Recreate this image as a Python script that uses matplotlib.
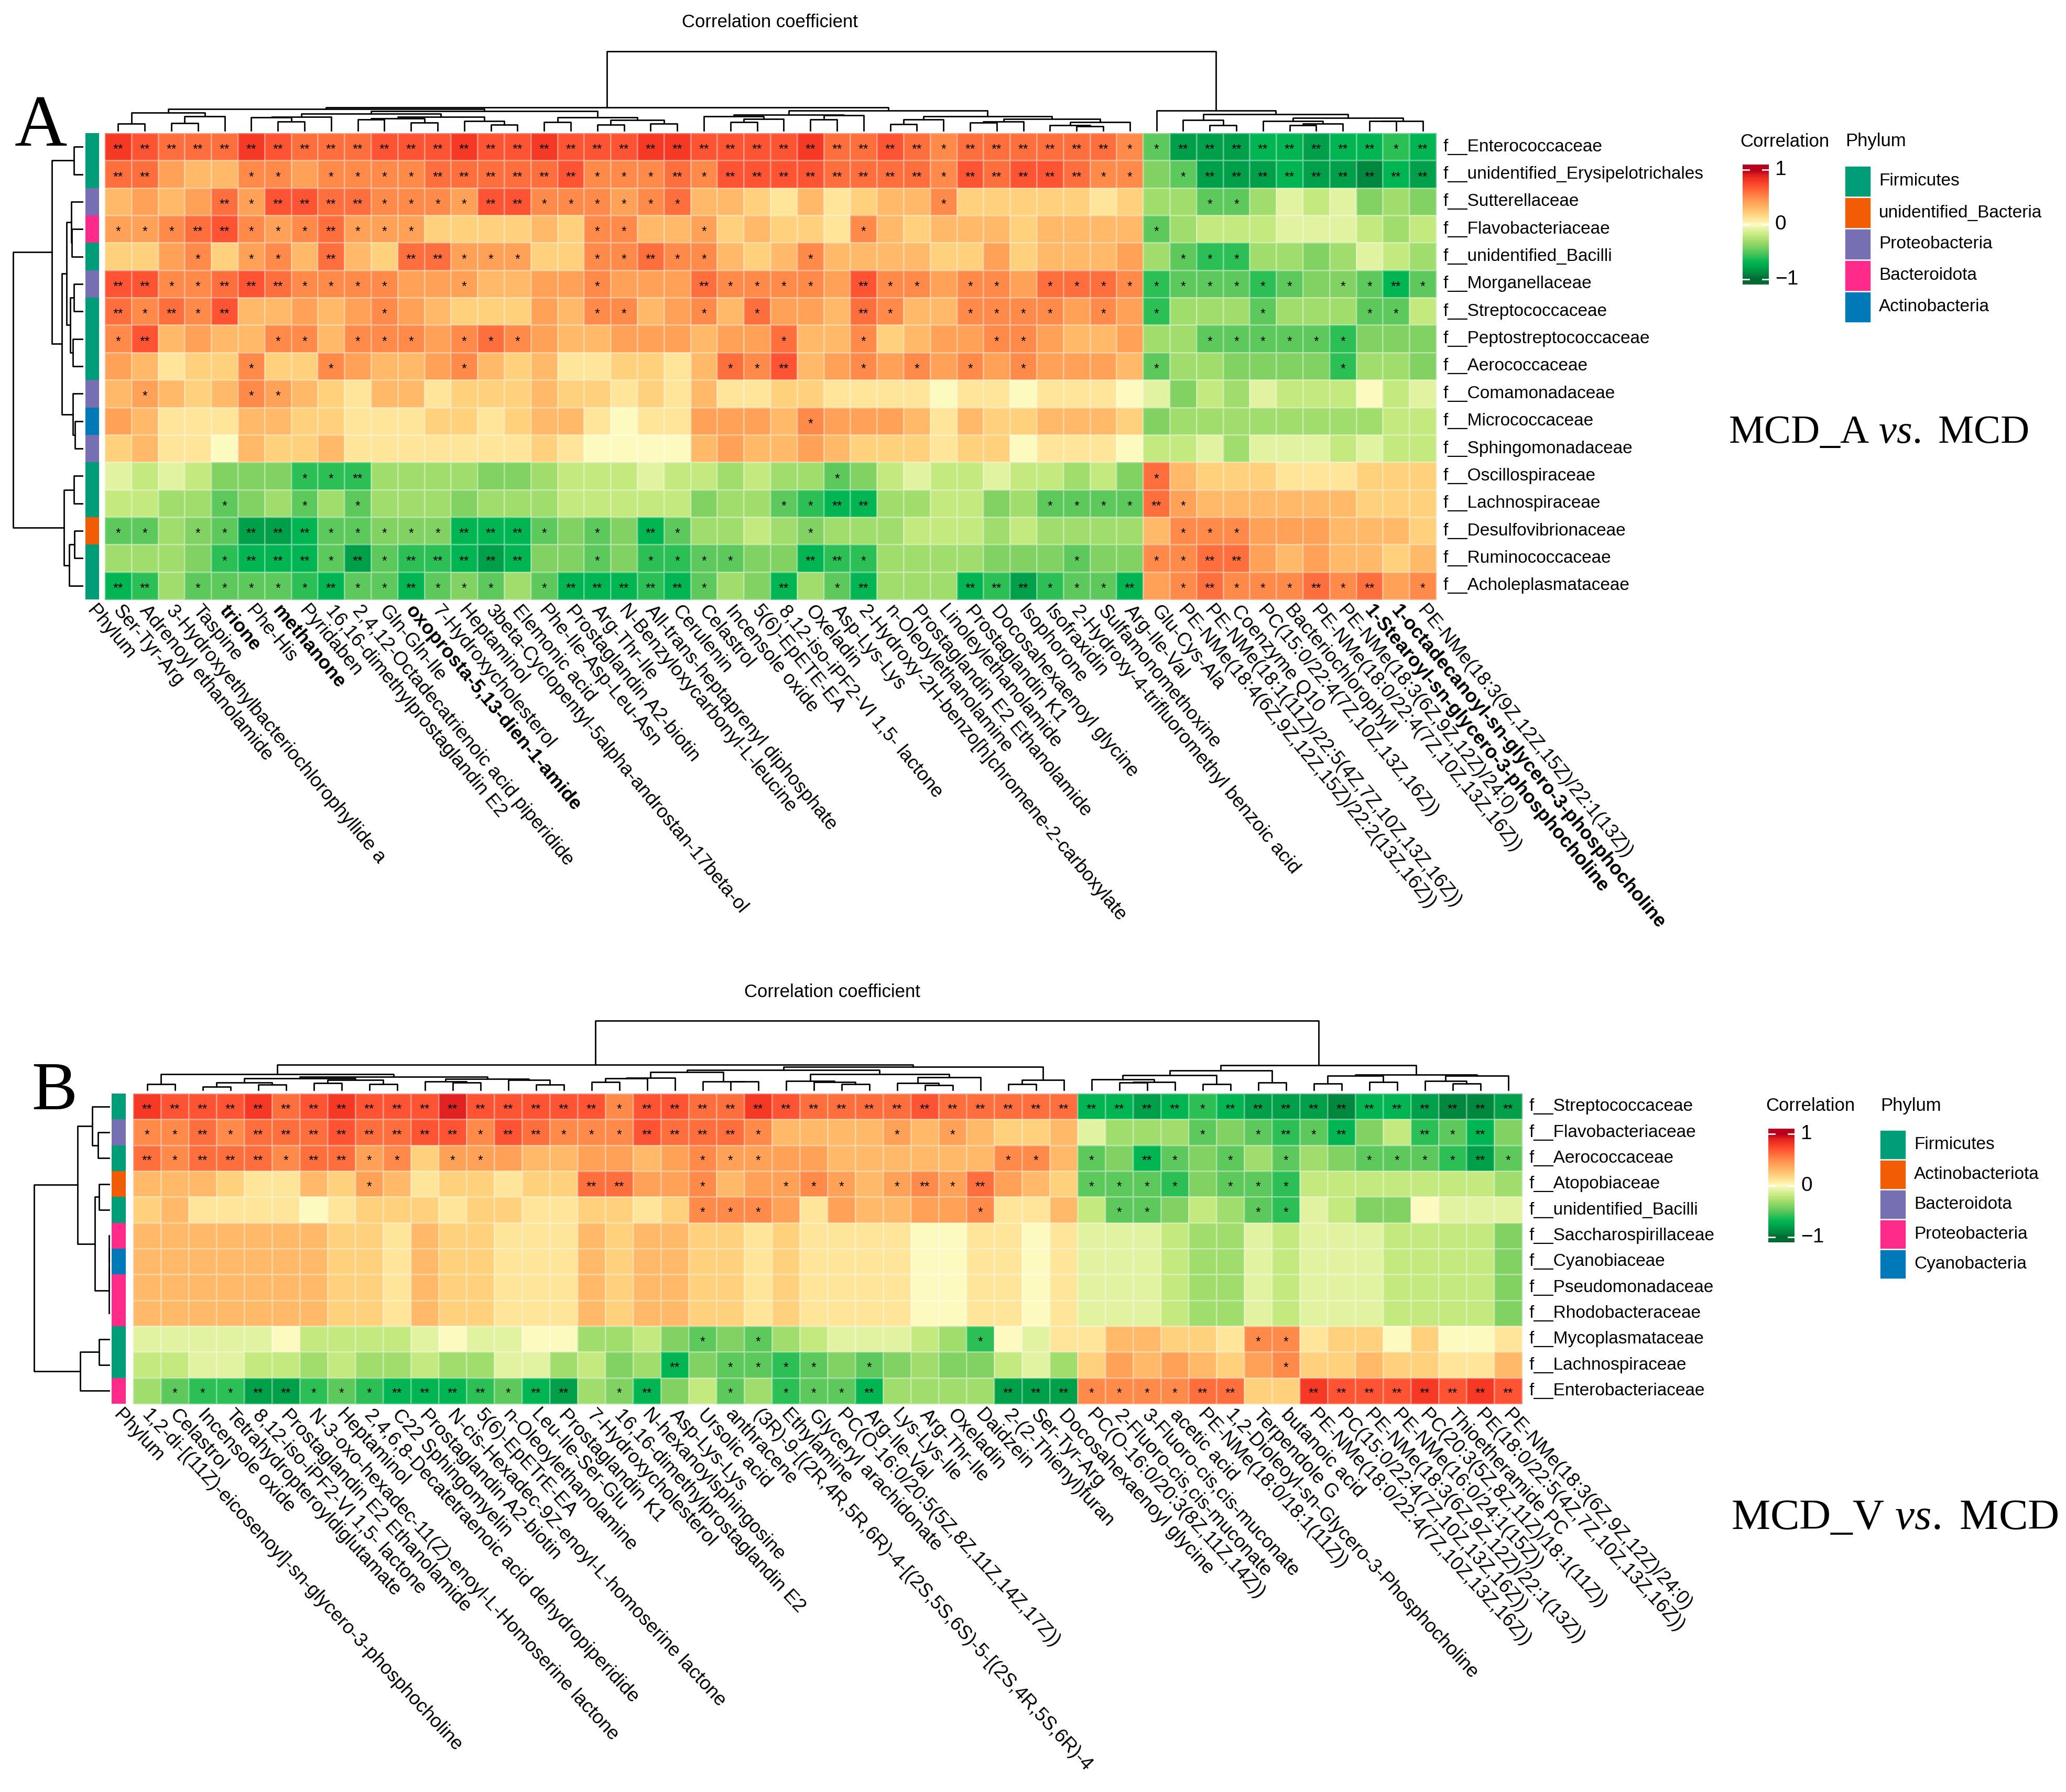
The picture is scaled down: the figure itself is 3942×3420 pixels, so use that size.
import numpy as np
import matplotlib
matplotlib.use("Agg")
import matplotlib.pyplot as plt
from matplotlib.colors import LinearSegmentedColormap, ListedColormap
from matplotlib.patches import Rectangle

W, H = 3942, 3420

# ---------------------------------------------------------------------------
# Panel A data (correlation x 10, significance: 0 / 1 = "*" / 2 = "**")
# ---------------------------------------------------------------------------
A_ROWS = ["f__Enterococcaceae", "f__unidentified_Erysipelotrichales", "f__Sutterellaceae",
          "f__Flavobacteriaceae", "f__unidentified_Bacilli", "f__Morganellaceae",
          "f__Streptococcaceae", "f__Peptostreptococcaceae", "f__Aerococcaceae",
          "f__Comamonadaceae", "f__Micrococcaceae", "f__Sphingomonadaceae",
          "f__Oscillospiraceae", "f__Lachnospiraceae", "f__Desulfovibrionaceae",
          "f__Ruminococcaceae", "f__Acholeplasmataceae"]

A_PHYLUM_NAMES = ["Firmicutes", "unidentified_Bacteria", "Proteobacteria", "Bacteroidota", "Actinobacteria"]
A_ROW_PHYLUM = ["Firmicutes", "Firmicutes", "Proteobacteria", "Bacteroidota", "Firmicutes",
                "Proteobacteria", "Firmicutes", "Firmicutes", "Firmicutes", "Proteobacteria",
                "Actinobacteria", "Proteobacteria", "Firmicutes", "Firmicutes",
                "unidentified_Bacteria", "Firmicutes", "Firmicutes"]

A_COLS = ["Ser-Tyr-Arg", "Adrenoyl ethanolamide", "3-Hydroxyethylbacteriochlorophyllide a", "Taspine",
          "trione", "Phe-His", "methanone", "Pyridaben", "16,16-dimethylprostaglandin E2",
          "2,4,12-Octadecatrienoic acid piperidide", "Gln-Gln-Ile", "oxoprosta-5,13-dien-1-amide",
          "7-Hydroxycholesterol", "Heptaminol", "3beta-Cyclopentyl-5alpha-androstan-17beta-ol",
          "Elemonic acid", "Phe-Ile-Asp-Leu-Asn", "Prostaglandin A2-biotin", "Arg-Thr-Ile",
          "N-Benzyloxycarbonyl-L-leucine", "All-trans-heptaprenyl diphosphate", "Cerulenin",
          "Celastrol", "Incensole oxide", "5(6)-EpETE-EA", "8,12-iso-iPF2-VI 1,5- lactone",
          "Oxeladin", "Asp-Lys-Lys", "2-Hydroxy-2H-benzo[h]chromene-2-carboxylate",
          "n-Oleoylethanolamine", "Prostaglandin E2 Ethanolamide", "Linoleylethanolamide",
          "Prostaglandin K1", "Docosahexaenoyl glycine", "Isophorone", "Isofraxidin",
          "2-Hydroxy-4-trifluoromethyl benzoic acid", "Sulfamonomethoxine", "Arg-Ile-Val",
          "Glu-Cys-Ala", "PE-NMe(18:4(6Z,9Z,12Z,15Z)/22:2(13Z,16Z))",
          "PE-NMe(18:1(11Z)/22:5(4Z,7Z,10Z,13Z,16Z))", "Coenzyme Q10",
          "PC(15:0/22:4(7Z,10Z,13Z,16Z))", "Bacteriochlorophyll",
          "PE-NMe(18:0/22:4(7Z,10Z,13Z,16Z))", "PE-NMe(18:3(6Z,9Z,12Z)/24:0)",
          "1-Stearoyl-sn-glycero-3-phosphocholine", "1-octadecanoyl-sn-glycero-3-phosphocholine",
          "PE-NMe(18:3(9Z,12Z,15Z)/22:1(13Z))"]
A_BOLD = ["trione", "methanone", "oxoprosta-5,13-dien-1-amide",
          "1-Stearoyl-sn-glycero-3-phosphocholine", "1-octadecanoyl-sn-glycero-3-phosphocholine"]

A_CORR = [
    [8, 7, 6, 6, 6, 8, 7, 6, 6, 6, 7, 7, 7, 8, 7, 7, 8, 7, 7, 7, 8, 8, 7, 7, 7, 7, 8, 6, 6, 7, 6, 5, 6, 6, 6, 6, 6, 6, 5, -5, -8, -8, -8, -7, -7, -8, -7, -7, -6, -7],
    [6, 6, 4, 3, 3, 5, 5, 4, 5, 5, 5, 5, 6, 6, 6, 6, 6, 7, 5, 5, 5, 6, 5, 7, 7, 7, 7, 6, 6, 6, 6, 5, 7, 6, 7, 7, 6, 5, 5, -4, -5, -8, -8, -8, -7, -8, -8, -9, -7, -8],
    [3, 4, 3, 4, 6, 4, 7, 7, 6, 6, 5, 5, 5, 4, 7, 7, 5, 5, 5, 4, 5, 6, 3, 3, 2, 1, 3, 1, 2, 3, 3, 5, 2, 2, 2, 2, 2, 1, 2, -3, -3, -5, -5, -3, -1, -2, -1, -4, -3, -4],
    [4, 4, 5, 6, 7, 5, 4, 5, 6, 4, 4, 4, 2, 2, 2, 2, 3, 2, 5, 5, 3, 3, 4, 2, 3, 2, 2, 1, 5, 3, 2, 3, 3, 3, 2, 3, 3, 3, 3, -5, -3, -2, -2, -2, -1, -1, -1, -2, -3, -2],
    [2, 2, 4, 5, 2, 4, 5, 3, 6, 3, 2, 6, 6, 4, 4, 4, 2, 2, 5, 5, 6, 5, 5, 3, 2, 3, 5, 3, 3, 3, 3, 2, 2, 4, 2, 3, 3, 3, 4, -3, -5, -6, -6, -3, -3, -4, -3, -1, -2, -3],
    [7, 7, 5, 5, 6, 7, 6, 5, 5, 5, 5, 4, 4, 4, 3, 3, 4, 4, 5, 4, 4, 4, 6, 5, 5, 5, 5, 4, 7, 5, 5, 4, 5, 5, 4, 6, 6, 6, 5, -6, -5, -5, -5, -6, -5, -4, -4, -5, -7, -5],
    [6, 5, 6, 5, 7, 3, 3, 4, 3, 4, 5, 4, 3, 2, 2, 2, 4, 3, 5, 5, 3, 4, 5, 3, 6, 4, 4, 3, 6, 5, 3, 3, 5, 5, 5, 5, 4, 5, 4, -6, -3, -3, -3, -5, -3, -3, -3, -5, -5, -2],
    [5, 7, 3, 4, 3, 3, 5, 5, 3, 5, 5, 5, 4, 5, 6, 5, 4, 3, 3, 4, 4, 4, 3, 4, 4, 6, 3, 3, 5, 2, 3, 4, 4, 5, 5, 4, 3, 3, 4, -3, -3, -5, -5, -5, -5, -5, -6, -4, -4, -4],
    [4, 3, 1, 2, 2, 5, 2, 2, 5, 4, 3, 3, 4, 5, 3, 2, 3, 1, 1, 2, 2, 1, 3, 6, 5, 7, 3, 4, 5, 4, 5, 4, 5, 4, 5, 4, 4, 4, 3, -5, -3, -3, -4, -4, -4, -4, -6, -3, -3, -4],
    [3, 4, 3, 2, 3, 5, 4, 3, 2, 1, 3, 3, 1, 2, 2, 2, 3, 2, 2, 1, 2, 1, 3, 1, 1, 2, 2, 1, 1, 1, 1, 0, 1, 1, 0, 1, 1, 1, 0, -1, -4, -2, -3, -1, -2, -2, -2, 0, -2, -1],
    [4, 3, 1, 1, 1, 3, 3, 2, 2, 1, 1, 1, 2, 2, 1, 2, 3, 3, 1, 0, 1, 1, 4, 4, 4, 3, 5, 4, 4, 4, 3, 1, 3, 2, 2, 3, 3, 3, 2, -4, -3, -3, -3, -3, -3, -3, -3, -3, -2, -2],
    [2, 3, 1, 1, 0, 3, 2, 2, 3, 1, 1, 1, 1, 1, 1, 1, 2, 1, 0, 0, 0, 0, 3, 4, 3, 3, 4, 3, 2, 2, 2, 1, 2, 2, 0, 1, 1, 1, 0, -2, -2, -1, -3, -1, -1, -1, -2, -1, -2, -2],
    [-1, -2, -1, -2, -4, -4, -4, -6, -6, -6, -3, -3, -3, -3, -4, -4, -3, -2, -2, -2, -1, -2, -2, -3, -2, -3, -3, -5, -4, -2, -1, -2, -2, -1, -2, -2, -3, -2, -4, 6, 3, 2, 2, 2, 1, 1, 1, 2, 2, 2],
    [-2, -2, -3, -3, -5, -4, -3, -5, -3, -5, -3, -3, -3, -4, -3, -3, -3, -2, -2, -2, -2, -2, -4, -3, -3, -5, -6, -7, -7, -3, -3, -2, -2, -4, -3, -5, -5, -5, -5, 6, 4, 3, 3, 3, 3, 3, 3, 2, 2, 2],
    [-5, -5, -3, -4, -5, -8, -8, -7, -5, -5, -4, -4, -4, -7, -7, -7, -5, -4, -5, -4, -7, -5, -3, -3, -2, -3, -4, -3, -3, -3, -2, -2, -2, -3, -2, -3, -3, -3, -3, 3, 5, 5, 5, 4, 4, 4, 3, 3, 3, 2],
    [-3, -3, -3, -4, -6, -7, -7, -7, -5, -8, -5, -6, -6, -7, -8, -7, -4, -4, -5, -4, -6, -6, -5, -5, -4, -4, -7, -6, -6, -3, -3, -3, -3, -4, -4, -4, -5, -4, -4, 5, 5, 6, 6, 4, 3, 4, 3, 3, 2, 3],
    [-7, -6, -3, -5, -5, -5, -5, -6, -7, -5, -5, -7, -5, -4, -5, -3, -5, -7, -7, -7, -6, -7, -5, -3, -4, -7, -3, -5, -7, -3, -3, -3, -7, -6, -8, -6, -5, -5, -7, 4, 5, 6, 5, 5, 5, 6, 5, 6, 4, 5],
]

A_SIG = [
    "22222222222222222 22222222222222122 22221 12222222212",
    "22000110111122222 21112122222222122 22211 01222222222",
    "00002122221111221 11111000000000100 00000 00110000000",
    "11122111211100000 01100100000100000 00000 10000000000",
    "00010110200221110 01121100010000000 00000 01110000000",
    "22112221111001000 01000211110211011 01111 11111101121",
    "21212000001000000 01100101000210011 11010 10001000110",
    "12000011011101110 00000000100100001 10000 00111111000",
    "00000100100001000 00000011200101010 10000 10000001000",
    "01000110000000000 00000000000000000 00000 00000000000",
    "00000000000000000 00000000010000000 00000 00000000000",
    "00000000000000000 00000000000000000 00000 00000000000",
    "00000001120000000 00000000001000000 00000 10000000000",
    "00001001010000000 00000000112200000 01111 21000000000",
    "11011222111112221 01021000010000000 00000 01110000000",
    "00001222121222220 01011110022100000 00100 11220000000",
    "22011111211211101 22222100201200022 21112 01211121201",
]

# ---------------------------------------------------------------------------
# Panel B data
# ---------------------------------------------------------------------------
B_ROWS = ["f__Streptococcaceae", "f__Flavobacteriaceae", "f__Aerococcaceae", "f__Atopobiaceae",
          "f__unidentified_Bacilli", "f__Saccharospirillaceae", "f__Cyanobiaceae",
          "f__Pseudomonadaceae", "f__Rhodobacteraceae", "f__Mycoplasmataceae",
          "f__Lachnospiraceae", "f__Enterobacteriaceae"]

B_PHYLUM_NAMES = ["Firmicutes", "Actinobacteriota", "Bacteroidota", "Proteobacteria", "Cyanobacteria"]
B_ROW_PHYLUM = ["Firmicutes", "Bacteroidota", "Firmicutes", "Actinobacteriota", "Firmicutes",
                "Proteobacteria", "Cyanobacteria", "Proteobacteria", "Proteobacteria",
                "Firmicutes", "Firmicutes", "Proteobacteria"]

B_COLS = ["1,2-di-[(11Z)-eicosenoyl]-sn-glycero-3-phosphocholine", "Celastrol", "Incensole oxide",
          "Tetrahydropteroyldiglutamate", "8,12-iso-iPF2-VI 1,5- lactone",
          "Prostaglandin E2 Ethanolamide", "N-3-oxo-hexadec-11(Z)-enoyl-L-Homoserine lactone",
          "Heptaminol", "2,4,6,8-Decatetraenoic acid dehydropiperidide", "C22 Sphingomyelin",
          "Prostaglandin A2-biotin", "N-cis-Hexadec-9Z-enoyl-L-homoserine lactone",
          "5(6)-EpETrE-EA", "n-Oleoylethanolamine", "Leu-Ile-Ser-Glu", "Prostaglandin K1",
          "7-Hydroxycholesterol", "16,16-dimethylprostaglandin E2", "N-hexanoylsphingosine",
          "Asp-Lys-Lys", "Ursolic acid", "anthracene",
          "(3R)-9-[(2R,4R,5R,6R)-4-[(2S,5S,6S)-5-[(2S,4R,5S,6R)-4",
          "Ethylamine", "Glyceryl arachidonate", "PC(O-16:0/20:5(5Z,8Z,11Z,14Z,17Z))",
          "Arg-Ile-Val", "Lys-Lys-Ile", "Arg-Thr-Ile", "Oxeladin", "Daidzein",
          "2-(2-Thienyl)furan", "Ser-Tyr-Arg", "Docosahexaenoyl glycine",
          "PC(O-16:0/20:3(8Z,11Z,14Z))", "2-Fluoro-cis,cis-muconate", "3-Fluoro-cis,cis-muconate",
          "acetic acid", "PE-NMe(18:0/18:1(11Z))", "1,2-Dioleoyl-sn-Glycero-3-Phosphocholine",
          "Terpendole G", "butanoic acid", "PE-NMe(18:0/22:4(7Z,10Z,13Z,16Z))",
          "PC(15:0/22:4(7Z,10Z,13Z,16Z))", "PE-NMe(18:3(6Z,9Z,12Z)/22:1(13Z))",
          "PE-NMe(16:0/24:1(15Z))", "PC(20:3(5Z,8Z,11Z)/18:1(11Z))", "Thioetheramide PC",
          "PE(18:0/22:5(4Z,7Z,10Z,13Z,16Z))", "PE-NMe(18:3(6Z,9Z,12Z)/24:0)"]

B_CORR = [
    [8, 7, 7, 7, 8, 6, 7, 8, 7, 7, 7, 9, 7, 7, 7, 7, 7, 5, 7, 7, 6, 6, 8, 7, 6, 6, 6, 6, 7, 6, 6, 6, 6, 6, -7, -7, -8, -7, -6, -7, -8, -8, -8, -9, -7, -7, -8, -9, -9, -8],
    [5, 5, 6, 5, 6, 6, 6, 7, 6, 6, 7, 7, 5, 7, 6, 5, 5, 5, 7, 6, 6, 6, 5, 3, 3, 3, 3, 4, 3, 4, 3, 2, 2, 3, -1, -3, -3, -3, -5, -4, -5, -6, -5, -7, -4, -2, -6, -5, -7, -4],
    [6, 5, 6, 6, 6, 5, 6, 6, 4, 5, 2, 4, 4, 4, 3, 3, 4, 4, 3, 4, 5, 4, 4, 4, 4, 3, 3, 3, 3, 3, 3, 5, 5, 3, -5, -4, -7, -5, -4, -5, -3, -5, -3, -4, -5, -5, -5, -6, -8, -5],
    [3, 3, 3, 2, 1, 1, 3, 2, 4, 3, 1, 2, 2, 1, 2, 2, 6, 6, 4, 4, 5, 3, 4, 4, 5, 4, 3, 4, 5, 4, 6, 4, 3, 2, -5, -5, -5, -6, -4, -5, -5, -6, -2, -2, -2, -2, -2, -2, -2, -3],
    [2, 3, 1, 1, 1, 1, 0, 1, 2, 2, 2, 1, 2, 2, 1, 1, 2, 2, 1, 2, 5, 5, 5, 4, 1, 4, 3, 3, 4, 4, 5, 1, 1, 3, -2, -5, -5, -4, -2, -3, -5, -6, -1, -2, -4, -4, 0, -1, -1, -1],
    [3, 3, 3, 3, 3, 3, 3, 2, 2, 1, 3, 2, 2, 1, 1, 1, 3, 2, 3, 3, 2, 2, 1, 2, 1, 1, 1, 1, 0, 0, 1, 1, 0, 1, -1, -1, -1, -2, -3, -3, -1, -2, -1, -1, -1, -2, -2, -2, -2, -4],
    [3, 3, 3, 3, 3, 3, 3, 2, 2, 1, 3, 2, 2, 1, 1, 1, 3, 2, 3, 3, 2, 2, 1, 2, 1, 1, 1, 1, 0, 0, 1, 1, 0, 1, -1, -1, -1, -2, -3, -3, -1, -2, -1, -1, -1, -2, -2, -2, -2, -4],
    [3, 3, 3, 3, 3, 3, 3, 2, 2, 1, 3, 2, 2, 1, 1, 1, 3, 2, 3, 3, 2, 2, 1, 2, 1, 1, 1, 1, 0, 0, 1, 1, 0, 1, -1, -1, -1, -2, -3, -3, -1, -2, -1, -1, -1, -2, -2, -2, -2, -4],
    [3, 3, 3, 3, 3, 3, 3, 2, 2, 1, 3, 2, 2, 1, 1, 1, 3, 2, 3, 3, 2, 2, 1, 2, 1, 1, 1, 1, 0, 0, 1, 1, 0, 1, -1, -1, -1, -2, -3, -3, -1, -2, -1, -1, -1, -2, -2, -2, -2, -4],
    [-1, -1, -1, -1, -1, 0, -2, -2, -2, -2, -1, 0, -1, -1, 0, 0, -3, -3, -2, -4, -5, -4, -5, -3, -2, -1, -1, -1, -2, -3, -6, 0, -1, 1, 1, 3, 3, 2, 2, 1, 5, 5, 1, 2, 2, 0, 2, 0, 0, 1],
    [-2, -2, -1, -1, -2, -2, -3, -2, -3, -3, -2, -3, -3, -1, -1, -3, -2, -4, -3, -7, -4, -5, -5, -6, -5, -4, -5, -4, -3, -4, -4, -2, -1, -3, 2, 4, 3, 4, 3, 2, 4, 5, 2, 2, 3, 2, 2, 1, 1, 3],
    [-3, -5, -6, -6, -8, -8, -6, -5, -6, -7, -7, -7, -6, -5, -7, -8, -3, -4, -7, -4, -2, -5, -3, -6, -5, -5, -7, -3, -3, -3, -3, -8, -8, -8, 5, 5, 5, 5, 6, 6, 2, 2, 8, 7, 7, 7, 8, 7, 8, 7],
]

B_SIG = [
    "2222222222222222 212222222222222222 2222122222222222",
    "1121222222221221 112222100001010000 0000101212002120",
    "2122212211011000 000011100000000110 1021010100111121",
    "0000000010000000 220010011101212000 1111011100000000",
    "0000000000000000 000011100000001000 0110001100000000",
    "0000000000000000 000000000000000000 0000000000000000",
    "0000000000000000 000000000000000000 0000000000000000",
    "0000000000000000 000000000000000000 0000000000000000",
    "0000000000000000 000000000000000000 0000000000000000",
    "0000000000000000 000010100000001000 0000001100000000",
    "0000000000000000 000201111010000000 0000000100000000",
    "0111221112222122 012001011120000222 1111220022222222",
]

PHYLUM_COLORS = ["#009e78", "#f25c05", "#7670b3", "#ff2a8a", "#0079b8"]

CORR_COLORS = ["#006b33", "#008a40", "#00a04a", "#00b552", "#2cbf55", "#5cc85c", "#82d263",
               "#a2dd6c", "#c4e97f", "#e0f2a0", "#fdfbc2", "#ffe599", "#ffd17d", "#ffb968",
               "#ffa359", "#ff8c4b", "#ff6f3d", "#ff5533", "#f63a25", "#e42420", "#b8001d"]
cmap = LinearSegmentedColormap.from_list("corr", CORR_COLORS)

SANS = ["Liberation Sans", "DejaVu Sans"]
SERIF = ["Liberation Serif", "DejaVu Serif"]
plt.rcParams["font.family"] = SANS
plt.rcParams["mathtext.fontset"] = "custom"
plt.rcParams["mathtext.rm"] = "Liberation Serif"
plt.rcParams["mathtext.it"] = "Liberation Serif:italic"


def ordered_linkage(vectors):
    """Complete linkage that only joins neighbours, so the drawn order is kept."""
    vectors = np.asarray(vectors, dtype=float)
    dist = np.sqrt(((vectors[:, None, :] - vectors[None, :, :]) ** 2).sum(-1))
    clusters = [([i], float(i), 0.0) for i in range(len(vectors))]
    links = []
    while len(clusters) > 1:
        scores = [dist[np.ix_(a[0], b[0])].max() for a, b in zip(clusters[:-1], clusters[1:])]
        k = int(np.argmin(scores))
        (ma, xa, ha), (mb, xb, hb) = clusters[k], clusters[k + 1]
        h = max(scores[k], ha, hb)
        links.append((xa, ha, xb, hb, h))
        clusters[k:k + 2] = [(ma + mb, (xa + xb) / 2, h)]
    return links, clusters[0][2]


def draw_panel(ax, corr, sig, rows, cols, row_phylum, phylum_names, lay):
    corr = np.asarray(corr, dtype=float) / 10.0
    sig = [s.replace(" ", "") for s in sig]
    nrow, ncol = corr.shape
    assert len(rows) == nrow and len(cols) == ncol
    assert all(len(s) == ncol for s in sig) and len(sig) == nrow

    x0, y0, x1, y1 = lay["hm"]
    cw, rh = (x1 - x0) / ncol, (y1 - y0) / nrow
    xe, ye = np.linspace(x0, x1, ncol + 1), np.linspace(y0, y1, nrow + 1)
    ax.pcolormesh(xe, ye, corr, cmap=cmap, vmin=-1, vmax=1,
                  edgecolors=(1, 1, 1, 0.3), linewidth=0.8)

    for i, row in enumerate(sig):
        for j, ch in enumerate(row):
            if ch != "0":
                ax.text(x0 + (j + 0.5) * cw, y0 + (i + 0.5) * rh + 6, "*" * int(ch),
                        ha="center", va="center", fontsize=18, color="black")

    # phylum annotation column
    px0, px1 = lay["phy"]
    idx = np.array([[phylum_names.index(p)] for p in row_phylum])
    ax.pcolormesh([px0, px1], ye, idx, cmap=ListedColormap(PHYLUM_COLORS), vmin=-0.5, vmax=4.5)

    # labels
    for i, name in enumerate(rows):
        ax.text(x1 + 14, y0 + (i + 0.5) * rh, name, ha="left", va="center", fontsize=24)
    lab_kw = dict(rotation=lay["rot"], rotation_mode="anchor", ha="left", va="center",
                  fontsize=lay["colsize"])
    ax.text((px0 + px1) / 2 - 4, y1 + 16, "Phylum", **lab_kw)
    for j, name in enumerate(cols):
        weight = "bold" if name in lay.get("bold", []) else "normal"
        ax.text(x0 + (j + 0.5) * cw - 4, y1 + 16, name, fontweight=weight, **lab_kw)

    # column dendrogram
    links, root_h = ordered_linkage(corr.T)
    y_root, y_leaf = lay["top_den"]
    yy = lambda h: y_leaf - h / root_h * (y_leaf - y_root)
    for xa, ha, xb, hb, h in links:
        pa, pb = x0 + (xa + 0.5) * cw, x0 + (xb + 0.5) * cw
        ax.plot([pa, pa, pb, pb], [yy(ha), yy(h), yy(h), yy(hb)], color="black", lw=2.0)

    # row dendrogram
    links, root_h = ordered_linkage(corr)
    x_root, x_leaf = lay["row_den"]
    xx = lambda h: x_leaf - h / root_h * (x_leaf - x_root)
    for ya, ha, yb, hb, h in links:
        pa, pb = y0 + (ya + 0.5) * rh, y0 + (yb + 0.5) * rh
        ax.plot([xx(ha), xx(h), xx(h), xx(hb)], [pa, pa, pb, pb], color="black", lw=2.0)

    tx, ty = lay["title"]
    ax.text(tx, ty, "Correlation coefficient", ha="center", va="center", fontsize=25)

    # legends
    lx, ly = lay["legend"]
    ax.text(lx - 5, ly, "Correlation", ha="left", va="center", fontsize=25)
    bx0, bx1, by0, by1 = lx, lx + 50, ly + 44, ly + 44 + lay["barh"]
    grad = np.linspace(1.1, -1.1, 256)[:, None]
    ax.imshow(grad, cmap=cmap, vmin=-1, vmax=1, extent=[bx0, bx1, by1, by0],
              aspect="auto", interpolation="bilinear")
    vy = lambda v: by0 + (1.1 - v) / 2.2 * (by1 - by0)
    for v, txt in [(1, "1"), (0, "0"), (-1, "\u22121")]:
        ax.plot([bx0, bx0 + 12], [vy(v), vy(v)], color="white", lw=2)
        ax.plot([bx1 - 12, bx1], [vy(v), vy(v)], color="white", lw=2)
        ax.text(bx1 + 12, vy(v), txt, ha="left", va="center", fontsize=28)

    qx = lx + lay["phy_dx"]
    ax.text(qx, ly, "Phylum", ha="left", va="center", fontsize=25)
    for k, name in enumerate(phylum_names):
        top = ly + 48 + k * lay["step"]
        ax.add_patch(Rectangle((qx, top), 47, lay["step"] - 4, color=PHYLUM_COLORS[k]))
        ax.text(qx + 64, top + (lay["step"] - 4) / 2, name, ha="left", va="center", fontsize=24)

    ax.text(*lay["tag_xy"], lay["tag"], ha="left", va="center", fontsize=lay["tag_size"],
            family=SERIF)
    ax.text(*lay["letter_xy"], lay["letter"], ha="left", va="center",
            fontsize=lay["letter_size"], family=SERIF)


fig = plt.figure(figsize=(W / 100, H / 100), dpi=100)
ax = fig.add_axes([0, 0, 1, 1])
ax.set_xlim(0, W)
ax.set_ylim(H, 0)
ax.axis("off")

LAYOUT_A = dict(hm=(200, 254, 2740, 1144), phy=(163, 189), top_den=(98, 249), row_den=(25, 157),
                rot=-50, colsize=26.5, bold=A_BOLD, title=(1469, 42), legend=(3325, 270),
                barh=229, phy_dx=196, step=60, tag="MCD_A $\\mathit{vs.}$ MCD",
                tag_xy=(3298, 826), tag_size=55, letter="A", letter_xy=(28, 244), letter_size=100)
LAYOUT_B = dict(hm=(254, 2087, 2904, 2679), phy=(213, 240), top_den=(1948, 2080), row_den=(65, 208),
                rot=-47, colsize=26.5, title=(1588, 1893), legend=(3374, 2110),
                barh=217, phy_dx=214, step=57, tag="MCD_V $\\mathit{vs.}$ MCD",
                tag_xy=(3303, 2898), tag_size=60, letter="B", letter_xy=(60, 2085), letter_size=94)

draw_panel(ax, A_CORR, A_SIG, A_ROWS, A_COLS, A_ROW_PHYLUM, A_PHYLUM_NAMES, LAYOUT_A)
draw_panel(ax, B_CORR, B_SIG, B_ROWS, B_COLS, B_ROW_PHYLUM, B_PHYLUM_NAMES, LAYOUT_B)

fig.savefig("out.png", dpi=100, facecolor="white")
